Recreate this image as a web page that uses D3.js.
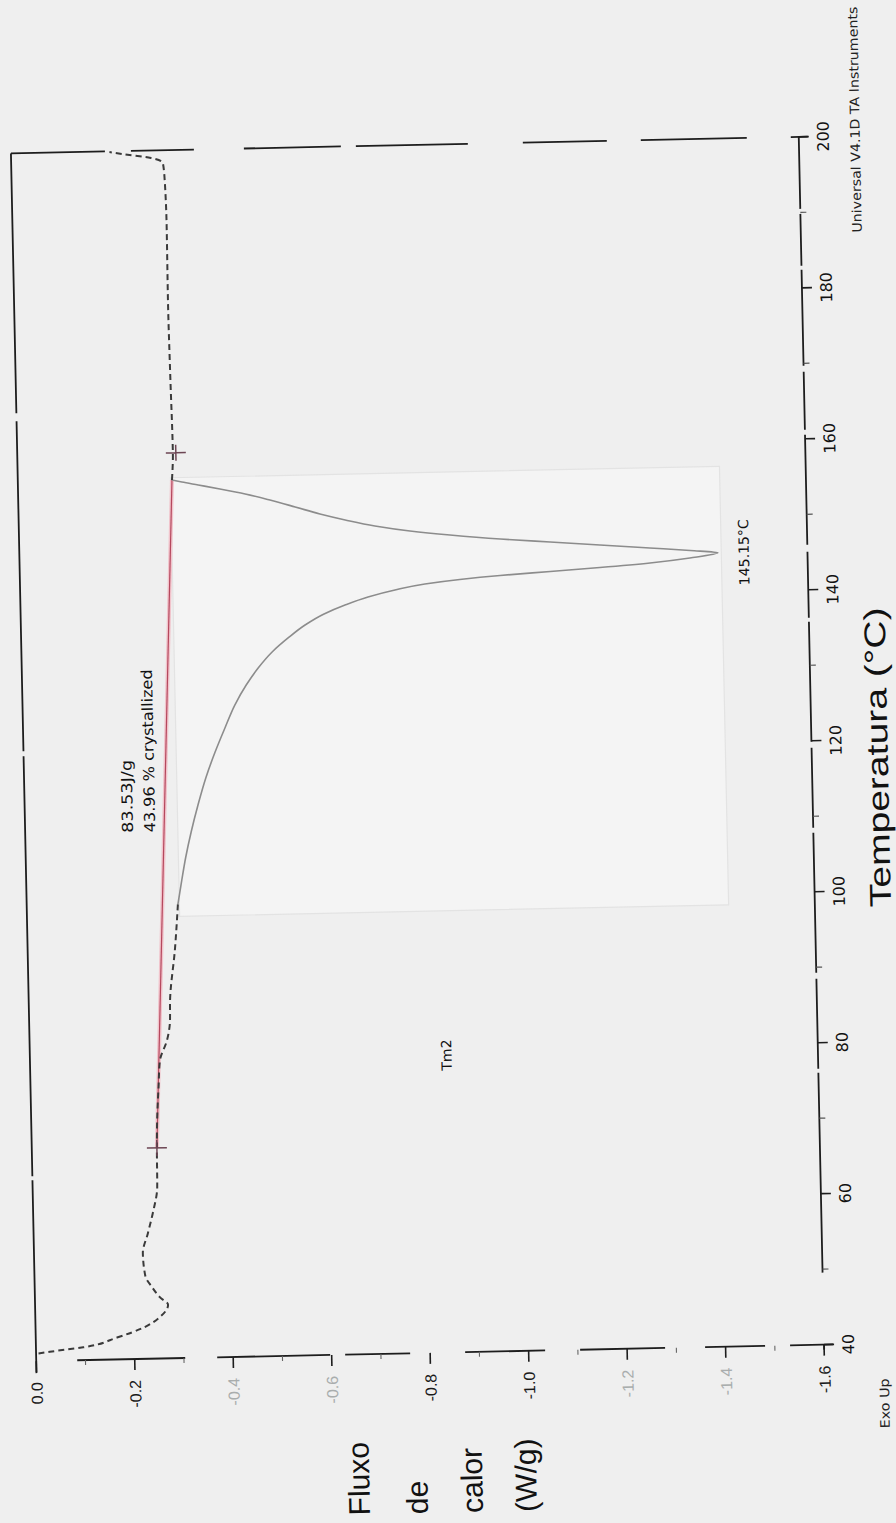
<!DOCTYPE html>
<html>
<head>
<meta charset="utf-8">
<script src="https://cdn.jsdelivr.net/npm/d3@7"></script>
<style>
  html, body { margin: 0; padding: 0; background: #efefef; }
  svg { display: block; }
</style>
</head>
<body>
<svg id="chart" width="896" height="1523"></svg>
<script>
// DSC thermogram, second heating (Tm2): heat flow vs temperature, page turned to portrait.

// ---- data ----
const tempTicks = [40, 60, 80, 100, 120, 140, 160, 180, 200];
const tempMinorTicks = [50, 70, 90, 110, 130, 150, 170, 190];
const flowTicks = [0, -0.2, -0.4, -0.6, -0.8, -1.0, -1.2, -1.4, -1.6];
const flowTickLabels = ["0.0", "-0.2", "-0.4", "-0.6", "-0.8", "-1.0", "-1.2", "-1.4", "-1.6"];
const flowMinorTicks = [-0.1, -0.3, -0.5, -0.7, -0.9, -1.1, -1.3, -1.5];

// heat-flow trace (°C, W/g)
const curveTemp = [41.0, 41.2, 41.7, 42.9, 44.1, 45.5, 47.1, 48.1, 49.5, 51.0, 54.0, 56.6, 59.3, 62.7,
  67.9, 72.0, 76.0, 79.5, 82.1, 84.7, 87.4, 94.1, 100.1,
  103.31, 106.34, 109.64, 113.19, 116.75, 120.16, 123.32, 126.33, 128.95, 131.17, 133.25, 135.06,
  136.73, 138.14, 139.27, 140.27, 141.12, 141.83, 142.33, 142.75, 143.14, 143.53, 143.99, 144.54,
  145.15,
  145.53, 145.97, 146.51, 147.04, 147.58, 148.25, 148.89, 149.65, 150.53, 151.39, 152.39, 153.38,
  154.25, 154.98, 155.57, 156.01, 156.3,
  160, 170, 180, 190, 196, 198.3, 199.0, 199.6, 199.9];
const curveFlow = [-0.005, -0.028, -0.096, -0.165, -0.218, -0.253, -0.270, -0.254, -0.238, -0.225,
  -0.221, -0.232, -0.243, -0.253, -0.254, -0.256, -0.260, -0.264, -0.279, -0.286, -0.287, -0.299,
  -0.307,
  -0.316, -0.325, -0.337, -0.352, -0.369, -0.389, -0.410, -0.431, -0.455, -0.480, -0.509, -0.542,
  -0.577, -0.616, -0.659, -0.706, -0.761, -0.822, -0.893, -0.975, -1.077, -1.178, -1.280, -1.361,
  -1.418,
  -1.362, -1.280, -1.179, -1.078, -0.977, -0.875, -0.794, -0.723, -0.663, -0.612, -0.562, -0.511,
  -0.461, -0.410, -0.366, -0.333, -0.313,
  -0.316, -0.314, -0.3125, -0.313, -0.311, -0.308, -0.284, -0.227, -0.200];

// integration window shown as the clean (solid) part of the trace
const integratedRange = [100.1, 156.3];

// integration baseline and its limit markers
const baselineTemp = [67.9, 156.3];
const baselineFlow = [-0.254, -0.313];
const markerTemp = [67.9, 159.9];
const markerFlow = [-0.254, -0.322];

// annotations
const peakTemp = 145.15;
const peakFlow = -1.418;
const peakLabel = "145.15°C";
const enthalpyLines = ["83.53J/g", "43.96 % crystallized"];
const eventLabel = "Tm2";
const xTitle = "Temperatura (°C)";
const yTitleLines = ["Fluxo", "de", "calor", "(W/g)"];
const footerLeft = "Exo Up";
const footerRight = "Universal V4.1D TA Instruments";

// ---- drawing ----
const svg = d3.select("#chart");
svg.append("rect").attr("width", 896).attr("height", 1523).attr("fill", "#efefef");

const x = d3.scaleLinear().domain([0, -1.6]).range([23.5, 811.5]);
const y = d3.scaleLinear().domain([40, 200]).range([1353, 145]);

// whole sheet sits slightly askew
const g = svg.append("g").attr("transform", "rotate(-1.2 417.5 749)");

const ink = "#1d1d1d";
const tickFont = "'DejaVu Sans', sans-serif";
const armFont = "'Liberation Sans', Arial, sans-serif";

// lighter panel around the integrated peak
g.append("rect")
  .attr("x", x(-0.31)).attr("y", y(156.6))
  .attr("width", x(-1.425) - x(-0.31)).attr("height", y(98.5) - y(156.6))
  .attr("fill", "#f4f4f4").attr("stroke", "#e3e3e3").attr("stroke-width", 1.2);

// frame lines (broken, as printed)
const frame = g.append("g").attr("fill", "none").attr("stroke", ink).attr("stroke-width", 1.8);
frame.append("path")
  .attr("d", `M${x(0)},${y(200)}H${x(-1.6) + 9}`)
  .attr("stroke-dasharray", "94 26 63 50 97 15 112 55 84 34 106 44 60");
frame.append("path")
  .attr("d", `M${x(0)},${y(200)}V${y(40) + 12}`)
  .attr("stroke-dasharray", "260 8 330 5 420 4 400");
frame.append("path")
  .attr("d", `M${x(0)},${y(40)}H${x(-1.6) + 9}`)
  .attr("stroke-dasharray", "0 41 108 32 113 15 65 55 80 35 85 40 60 25 60");
frame.append("path")
  .attr("d", `M${x(-1.6)},${y(200)}V${y(40) + 12}`)
  .attr("stroke-dasharray", "72 5 52 4 96 6 58 5 110 7 66 4 120 6 80 5 140 6 90 4 200");

// temperature axis ticks and labels
const tAxis = g.append("g");
tAxis.selectAll("line.maj").data(tempTicks).join("line")
  .attr("x1", x(-1.6)).attr("x2", x(-1.6) + 10)
  .attr("y1", d => y(d)).attr("y2", d => y(d))
  .attr("stroke", ink).attr("stroke-width", 1.6);
tAxis.selectAll("line.min").data(tempMinorTicks).join("line")
  .attr("x1", x(-1.6)).attr("x2", x(-1.6) + 6)
  .attr("y1", d => y(d)).attr("y2", d => y(d))
  .attr("stroke", "#555").attr("stroke-width", 1.2);
tAxis.selectAll("text").data(tempTicks).join("text")
  .attr("transform", d => `translate(${x(-1.6) + 30},${y(d)}) rotate(-90)`)
  .attr("text-anchor", "middle")
  .attr("font-family", tickFont).attr("font-size", 16).attr("fill", "#111")
  .text(d => d);

// heat-flow axis ticks and labels
const fAxis = g.append("g");
const faint = new Set(["-0.4", "-0.6", "-1.2", "-1.4"]);
fAxis.selectAll("line.maj").data(flowTicks).join("line")
  .attr("x1", d => x(d)).attr("x2", d => x(d))
  .attr("y1", y(40)).attr("y2", y(40) + 11)
  .attr("stroke", ink).attr("stroke-width", 1.6);
fAxis.selectAll("line.min").data(flowMinorTicks).join("line")
  .attr("x1", d => x(d)).attr("x2", d => x(d))
  .attr("y1", y(40)).attr("y2", y(40) + 5)
  .attr("stroke", "#666").attr("stroke-width", 1.1);
fAxis.selectAll("text").data(flowTicks).join("text")
  .attr("transform", d => `translate(${x(d)},${y(40) + 21}) rotate(-90)`)
  .attr("text-anchor", "end").attr("dy", "0.36em")
  .attr("font-family", armFont).attr("font-size", 16)
  .attr("fill", (d, i) => faint.has(flowTickLabels[i]) ? "#a9adad" : "#1a1a1a")
  .text((d, i) => flowTickLabels[i]);

// trace
const pts = curveTemp.map((t, i) => ({ t, f: curveFlow[i] }));
const line = d3.line().x(d => x(d.f)).y(d => y(d.t)).curve(d3.curveMonotoneY);
const lowPart = pts.filter(d => d.t <= integratedRange[0]);
const midPart = pts.filter(d => d.t >= integratedRange[0] && d.t <= integratedRange[1]);
const highPart = pts.filter(d => d.t >= integratedRange[1]);

// baseline (under the trace)
const base = baselineTemp.map((t, i) => ({ t, f: baselineFlow[i] }));
const baseLine = d3.line().x(d => x(d.f)).y(d => y(d.t));
g.append("path").attr("d", baseLine(base)).attr("fill", "none")
  .attr("stroke", "#f1c3cb").attr("stroke-width", 4);
g.append("path").attr("d", baseLine(base)).attr("fill", "none")
  .attr("stroke", "#b5475d").attr("stroke-width", 1.2);

g.append("path").attr("d", line(midPart)).attr("fill", "none")
  .attr("stroke", "#8c8c8c").attr("stroke-width", 1.6);
[lowPart, highPart].forEach(part => {
  g.append("path").attr("d", line(part)).attr("fill", "none")
    .attr("stroke", "#3a3a3a").attr("stroke-width", 2)
    .attr("stroke-dasharray", "6 4");
});

// integration limit markers
markerTemp.forEach((t, i) => {
  const cx = x(markerFlow[i]), cy = y(t);
  g.append("path").attr("d", `M${cx - 10},${cy}H${cx + 10}M${cx},${cy - 8}V${cy + 8}`)
    .attr("stroke", "#6d4654").attr("stroke-width", 1.5).attr("fill", "none");
});

// annotations
g.append("text")
  .attr("transform", `translate(${x(peakFlow) + 31},${y(peakTemp)}) rotate(-90)`)
  .attr("text-anchor", "middle")
  .attr("font-family", tickFont).attr("font-size", 14).attr("fill", "#111")
  .attr("textLength", 66).attr("lengthAdjust", "spacingAndGlyphs")
  .text(peakLabel);

const enthalpyX = [x(-0.219), x(-0.264)];
const enthalpyLen = [73, 163];
enthalpyLines.forEach((s, i) => {
  g.append("text")
    .attr("transform", `translate(${enthalpyX[i]},${y(109.7)}) rotate(-90)`)
    .attr("text-anchor", "start")
    .attr("font-family", tickFont).attr("font-size", 15).attr("fill", "#111")
    .attr("textLength", enthalpyLen[i]).attr("lengthAdjust", "spacingAndGlyphs")
    .text(s);
});

g.append("text")
  .attr("transform", `translate(${x(-0.856)},${y(79.4)}) rotate(-90)`)
  .attr("text-anchor", "middle")
  .attr("font-family", tickFont).attr("font-size", 14).attr("fill", "#111")
  .text(eventLabel);

// axis titles
g.append("text")
  .attr("transform", `translate(${x(-1.6) + 76},617) rotate(-90)`)
  .attr("text-anchor", "end")
  .attr("font-family", armFont).attr("font-size", 30).attr("fill", "#111")
  .attr("textLength", 300).attr("lengthAdjust", "spacingAndGlyphs")
  .text(xTitle);

const yTitleX = [354, 412, 467, 521];
yTitleLines.forEach((s, i) => {
  g.append("text")
    .attr("transform", `translate(${yTitleX[i]},1514) rotate(-90)`)
    .attr("text-anchor", "start")
    .attr("font-family", armFont).attr("font-size", 30).attr("fill", "#111")
    .text(s);
});

// instrument footer
g.append("text")
  .attr("transform", `translate(${x(-1.6) + 64},1438) rotate(-90)`)
  .attr("font-family", tickFont).attr("font-size", 13).attr("fill", "#222")
  .attr("textLength", 50).attr("lengthAdjust", "spacingAndGlyphs")
  .text(footerLeft);
g.append("text")
  .attr("transform", `translate(${x(-1.6) + 61},242) rotate(-90)`)
  .attr("font-family", tickFont).attr("font-size", 13).attr("fill", "#222")
  .attr("textLength", 226).attr("lengthAdjust", "spacingAndGlyphs")
  .text(footerRight);
</script>
</body>
</html>
